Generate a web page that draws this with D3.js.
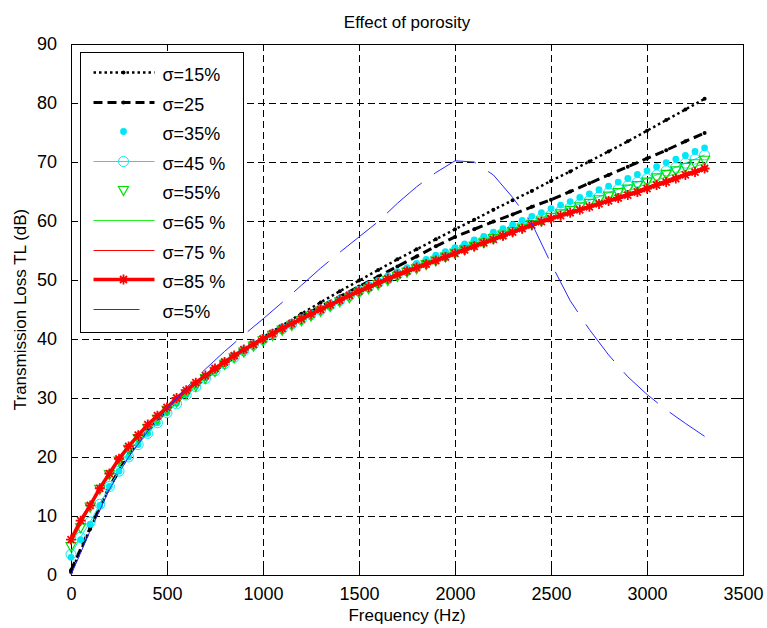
<!DOCTYPE html>
<html>
<head>
<meta charset="utf-8">
<script src="https://d3js.org/d3.v7.min.js"></script>
<style>
    body { margin: 0; background: #fff; }
    text { font-family: "Liberation Sans", Arial, Helvetica, sans-serif; fill: #000; }
</style>
</head>
<body>
<div id="vis"></div>
<script>
// frequency grids (Hz)
var freqFine = [0, 50, 100, 150, 200, 250, 300, 350, 400, 450, 500, 550, 600, 650, 700, 750, 800, 850, 900, 950,
    1000, 1050, 1100, 1150, 1200, 1250, 1300, 1350, 1400, 1450, 1500, 1550, 1600, 1650, 1700, 1750, 1800, 1850, 1900, 1950,
    2000, 2050, 2100, 2150, 2200, 2250, 2300, 2350, 2400, 2450, 2500, 2550, 2600, 2650, 2700, 2750, 2800, 2850, 2900, 2950,
    3000, 3050, 3100, 3150, 3200, 3250, 3300];
var freqCoarse = [0, 100, 200, 300, 400, 500, 600, 700, 800, 900, 1000, 1100, 1200, 1300, 1400, 1500, 1600, 1700, 1800, 1900,
    2000, 2100, 2200, 2300, 2400, 2500, 2600, 2700, 2800, 2900, 3000, 3100, 3200, 3300];

// transmission loss (dB), coarse grid
var tl15 = [0.5, 7.8, 14.8, 20.3, 24.4, 27.8, 30.7, 33.3, 35.8, 38.1, 40.3, 42.3, 44.3, 46.2, 48.1, 49.9, 51.7, 53.5, 55.2, 56.9,
    58.6, 60.2, 61.9, 63.5, 65.1, 66.8, 68.4, 70.1, 71.8, 73.5, 75.3, 77.1, 78.9, 80.7];
var tl25 = [0.8, 8.0, 15.0, 20.4, 24.5, 27.9, 30.8, 33.4, 35.8, 38.0, 40.1, 42.0, 43.8, 45.5, 47.2, 48.9, 50.6, 52.3, 54.0, 55.7,
    57.3, 58.6, 59.9, 61.1, 62.4, 63.6, 65.0, 66.4, 67.8, 69.2, 70.6, 72.0, 73.5, 74.9];
var tl65 = [5.2, 11.6, 17.1, 21.5, 25.0, 28.0, 30.8, 33.4, 35.8, 37.9, 39.8, 41.6, 43.2, 44.8, 46.3, 47.8, 49.2, 50.5, 51.8, 53.1,
    54.4, 55.6, 56.8, 58.0, 59.2, 60.4, 61.6, 62.7, 63.9, 65.1, 66.3, 67.5, 68.6, 69.8];
var tl75 = [5.6, 11.6, 17.1, 21.6, 25.2, 28.2, 31.0, 33.6, 36.0, 38.1, 40.0, 41.7, 43.3, 44.9, 46.4, 47.9, 49.3, 50.6, 51.9, 53.1,
    54.4, 55.6, 56.8, 58.0, 59.1, 60.3, 61.4, 62.5, 63.6, 64.7, 65.8, 67.0, 68.1, 69.2];
var tl5 = [0.0, 7.5, 14.5, 20.0, 24.4, 28.2, 31.7, 34.9, 37.9, 40.7, 43.4, 46.2, 49.1, 52.0, 54.7, 57.3, 59.9, 63.0, 65.8, 68.2,
    70.2, 70.0, 67.8, 64.0, 59.6, 52.8, 46.5, 41.6, 37.3, 33.6, 30.6, 28.0, 25.7, 23.5];

// transmission loss (dB), fine grid
var tl35 = [3.0, 6.0, 8.6, 11.8, 15.0, 17.6, 20.0, 22.1, 24.0, 25.8, 27.5, 29.1, 30.6, 32.0, 33.4, 34.7, 35.9, 37.0, 38.1, 39.1,
    40.0, 40.9, 41.8, 42.7, 43.5, 44.3, 45.2, 46.0, 46.8, 47.6, 48.4, 49.2, 49.9, 50.7, 51.4, 52.1, 52.8, 53.5, 54.2, 54.8,
    55.5, 56.1, 56.8, 57.4, 58.1, 58.7, 59.4, 60.1, 60.8, 61.4, 62.1, 62.7, 63.3, 64.0, 64.6, 65.3, 65.9, 66.6, 67.2, 67.9,
    68.5, 69.2, 69.9, 70.5, 71.1, 71.8, 72.4];
var tl45 = [3.5, 6.4, 9.0, 12.0, 15.0, 17.6, 20.0, 22.1, 24.0, 25.8, 27.5, 29.0, 30.5, 31.9, 33.3, 34.6, 35.8, 36.9, 38.0, 39.0,
    39.9, 40.8, 41.7, 42.5, 43.3, 44.1, 44.9, 45.7, 46.5, 47.3, 48.1, 48.8, 49.5, 50.2, 50.9, 51.6, 52.3, 52.9, 53.6, 54.2,
    54.9, 55.5, 56.1, 56.7, 57.4, 58.0, 58.6, 59.2, 59.9, 60.5, 61.1, 61.7, 62.3, 62.9, 63.5, 64.1, 64.8, 65.4, 66.0, 66.6,
    67.2, 67.8, 68.5, 69.1, 69.8, 70.5, 71.2];
var tl55 = [4.8, 8.0, 11.5, 14.5, 17.0, 19.3, 21.3, 23.1, 24.8, 26.4, 27.9, 29.3, 30.7, 32.0, 33.3, 34.5, 35.7, 36.8, 37.8, 38.8,
    39.7, 40.6, 41.5, 42.3, 43.1, 43.9, 44.7, 45.5, 46.3, 47.0, 47.8, 48.5, 49.2, 49.9, 50.6, 51.3, 51.9, 52.6, 53.2, 53.9,
    54.5, 55.1, 55.7, 56.3, 57.0, 57.6, 58.2, 58.8, 59.4, 60.0, 60.6, 61.2, 61.8, 62.4, 63.0, 63.6, 64.2, 64.8, 65.4, 66.0,
    66.6, 67.3, 67.9, 68.5, 69.1, 69.7, 70.3];
var tl85 = [6.0, 9.2, 11.8, 14.7, 17.2, 19.7, 21.8, 23.7, 25.5, 27.0, 28.4, 30.0, 31.3, 32.6, 33.8, 35.0, 36.1, 37.2, 38.2, 39.1,
    40.0, 40.9, 41.8, 42.6, 43.4, 44.2, 45.0, 45.8, 46.6, 47.4, 48.1, 48.8, 49.5, 50.2, 50.9, 51.5, 52.1, 52.7, 53.3, 53.9,
    54.5, 55.1, 55.7, 56.3, 56.9, 57.5, 58.1, 58.7, 59.3, 59.9, 60.4, 60.9, 61.4, 61.9, 62.4, 62.9, 63.4, 63.9, 64.4, 64.9,
    65.5, 66.1, 66.6, 67.2, 67.8, 68.3, 68.9];

var legendLabels = ['σ=15%', 'σ=25', 'σ=35%', 'σ=45 %', 'σ=55%', 'σ=65 %', 'σ=75 %', 'σ=85 %', 'σ=5%'];
var xTicks = [0, 500, 1000, 1500, 2000, 2500, 3000, 3500];
var yTicks = [0, 10, 20, 30, 40, 50, 60, 70, 80, 90];

var margin = { top: 44, right: 24, bottom: 53, left: 71 };
var width = 767;
var height = 628;
var drawWidth = width - margin.left - margin.right;
var drawHeight = height - margin.top - margin.bottom;

var svg = d3.select('#vis')
            .append('svg')
            .attr('width', width)
            .attr('height', height);

var g = svg.append('g')
           .attr('transform', 'translate(' + margin.left + ',' + margin.top + ')');

var xScale = d3.scaleLinear().domain([0, 3500]).range([0, drawWidth]);
var yScale = d3.scaleLinear().domain([0, 90]).range([drawHeight, 0]);

// grid (snapped to pixel centres so the dashes stay black)
var snap = function(v) { return Math.round(v) + 0.5; };
g.selectAll('.vgrid').data(xTicks.slice(1, -1)).enter().append('line')
    .attr('x1', d => snap(xScale(d))).attr('x2', d => snap(xScale(d)))
    .attr('y1', 0).attr('y2', drawHeight)
    .attr('stroke', '#000').attr('stroke-width', 1).attr('stroke-dasharray', '7,4');
g.selectAll('.hgrid').data(yTicks.slice(1, -1)).enter().append('line')
    .attr('x1', 0).attr('x2', drawWidth)
    .attr('y1', d => snap(yScale(d))).attr('y2', d => snap(yScale(d)))
    .attr('stroke', '#000').attr('stroke-width', 1).attr('stroke-dasharray', '7,4');

// axes (ticks inside, box on all sides)
var tickLen = 7;
g.append('g').attr('transform', 'translate(0,' + drawHeight + ')')
    .call(d3.axisBottom(xScale).tickValues(xTicks).tickFormat(d3.format('d'))
        .tickSizeInner(-tickLen).tickSizeOuter(0).tickPadding(12))
    .call(a => a.select('.domain').remove());
g.append('g')
    .call(d3.axisTop(xScale).tickValues(xTicks).tickSizeInner(-tickLen).tickSizeOuter(0).tickFormat(''))
    .call(a => a.select('.domain').remove());
g.append('g')
    .call(d3.axisLeft(yScale).tickValues(yTicks).tickSizeInner(-tickLen).tickSizeOuter(0).tickPadding(14))
    .call(a => a.select('.domain').remove());
g.append('g').attr('transform', 'translate(' + drawWidth + ',0)')
    .call(d3.axisRight(yScale).tickValues(yTicks).tickSizeInner(-tickLen).tickSizeOuter(0).tickFormat(''))
    .call(a => a.select('.domain').remove());
g.selectAll('.tick text').style('font-size', '18px').style('font-family', '"Liberation Sans", Arial, sans-serif');
g.selectAll('.tick line').attr('stroke', '#000');
g.append('rect').attr('x', 0.5).attr('y', 0.5).attr('width', drawWidth).attr('height', drawHeight)
    .attr('fill', 'none').attr('stroke', '#000').attr('stroke-width', 1);

// marker shapes
var starPath = 'M-5,0L5,0M0,-5L0,5M-3.5,-3.5L3.5,3.5M-3.5,3.5L3.5,-3.5';
var triPath = 'M-5,-4L5,-4L0,5Z';

var series = [
    { freq: freqCoarse, tl: tl15, color: '#000', width: 2.5, dash: '2.5,3', marker: 'dot', r: 2 },
    { freq: freqCoarse, tl: tl25, color: '#000', width: 3, dash: '9,5', marker: 'dot', r: 2 },
    { freq: freqFine, tl: tl35, color: '#00e8f8', width: 0, marker: 'dot', r: 3.4 },
    { freq: freqFine, tl: tl45, color: '#00e8f8', width: 1, marker: 'circle', r: 5 },
    { freq: freqFine, tl: tl55, color: '#00e000', width: 0, marker: 'tri' },
    { freq: freqCoarse, tl: tl65, color: '#22ee22', width: 1 },
    { freq: freqCoarse, tl: tl75, color: '#ff0000', width: 1 },
    { freq: freqFine, tl: tl85, color: '#ff0000', width: 3.5, marker: 'star' },
    { freq: freqCoarse, tl: tl5, color: '#2828ff', width: 1, dash: '46,15' }
];

var line = d3.line()
    .x(d => xScale(d[0]))
    .y(d => yScale(d[1]));

function drawMarker(sel, s, x, y) {
    if (s.marker === 'dot') {
        sel.append('circle').attr('cx', x).attr('cy', y).attr('r', s.r).attr('fill', s.color);
    } else if (s.marker === 'circle') {
        sel.append('circle').attr('cx', x).attr('cy', y).attr('r', s.r)
            .attr('fill', 'none').attr('stroke', s.color).attr('stroke-width', 1);
    } else if (s.marker === 'tri') {
        sel.append('path').attr('d', triPath).attr('transform', 'translate(' + x + ',' + y + ')')
            .attr('fill', 'none').attr('stroke', s.color).attr('stroke-width', 1.2);
    } else if (s.marker === 'star') {
        sel.append('path').attr('d', starPath).attr('transform', 'translate(' + x + ',' + y + ')')
            .attr('fill', 'none').attr('stroke', s.color).attr('stroke-width', 1.8);
    }
}

series.forEach(function(s) {
    var pts = s.freq.map(function(f, i) { return [f, s.tl[i]]; });
    var sg = g.append('g');
    if (s.width > 0) {
        sg.append('path').datum(pts)
            .attr('d', line)
            .attr('fill', 'none')
            .attr('stroke', s.color)
            .attr('stroke-width', s.width)
            .attr('stroke-dasharray', s.dash || null);
    }
    if (s.marker) {
        pts.forEach(function(p) { drawMarker(sg, s, xScale(p[0]), yScale(p[1])); });
    }
});

// legend
var lg = g.append('g').attr('transform', 'translate(9.5,8.5)');
lg.append('rect').attr('x', 0).attr('y', 0).attr('width', 163).attr('height', 280)
    .attr('fill', '#fff').attr('stroke', '#000').attr('stroke-width', 1);
series.forEach(function(s, i) {
    var yy = Math.round(20 + i * 29.6);
    var row = lg.append('g');
    if (s.width > 0) {
        row.append('line').attr('x1', 13).attr('x2', 74).attr('y1', yy).attr('y2', yy)
            .attr('stroke', s.color).attr('stroke-width', s.width)
            .attr('stroke-dasharray', s.dash || null);
    }
    if (s.marker) drawMarker(row, s, 43, yy);
    row.append('text').attr('x', 82).attr('y', yy + 8)
        .style('font-size', '18px')
        .text(legendLabels[i]);
});

// title and axis labels
svg.append('text').attr('x', margin.left + drawWidth / 2).attr('y', 28)
    .attr('text-anchor', 'middle').style('font-size', '17px').text('Effect of porosity');
svg.append('text').attr('x', margin.left + drawWidth / 2).attr('y', 621)
    .attr('text-anchor', 'middle').style('font-size', '17px').text('Frequency (Hz)');
svg.append('text')
    .attr('transform', 'translate(26,' + (margin.top + drawHeight / 2) + ') rotate(-90)')
    .attr('text-anchor', 'middle').style('font-size', '17px').text('Transmission Loss TL (dB)');
</script>
</body>
</html>
